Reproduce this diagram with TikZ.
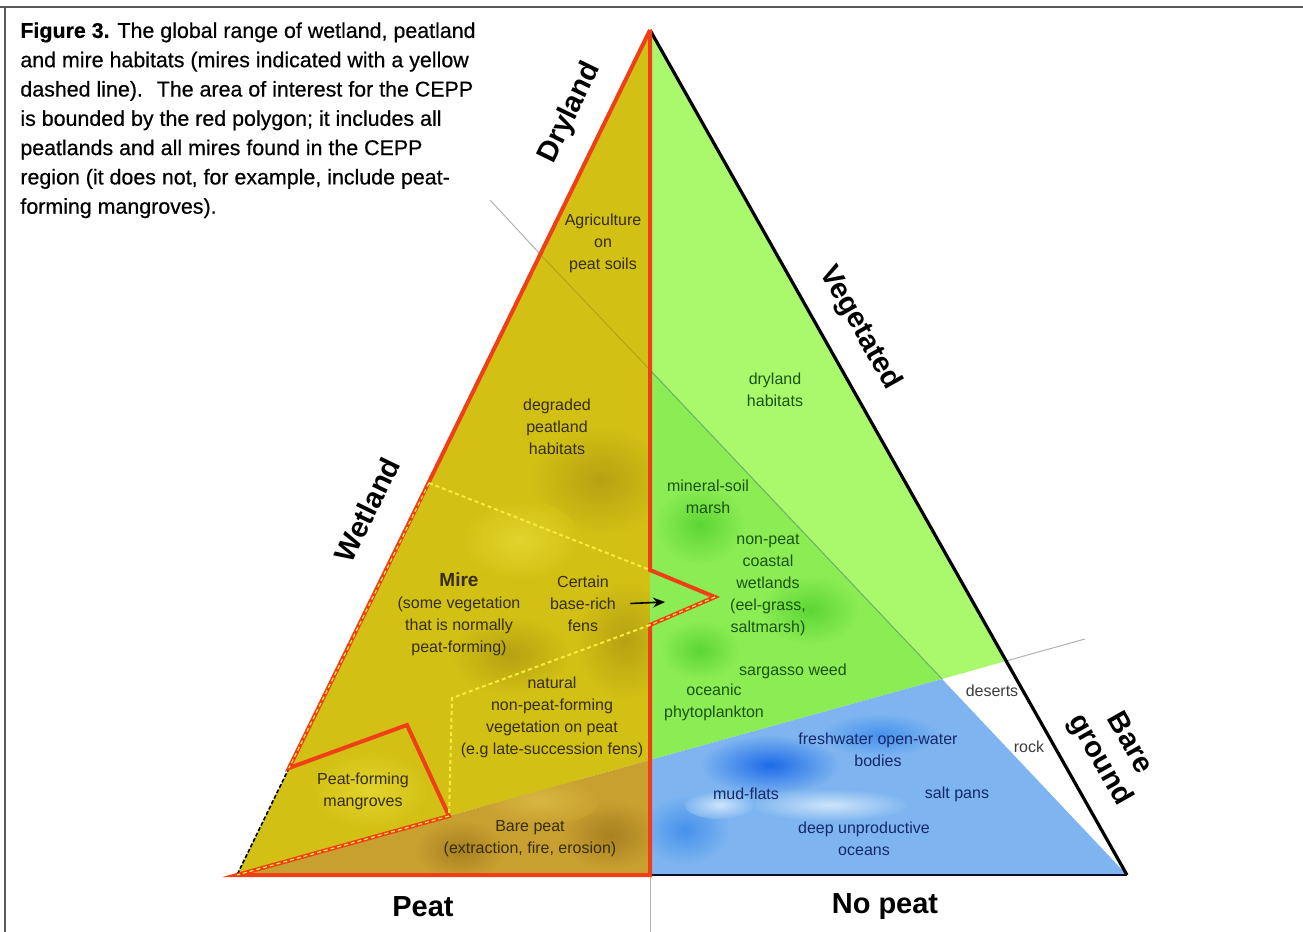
\documentclass[tikz,border=0pt]{standalone}
\usepackage{fontspec}
\setmainfont{Liberation Sans}
\newfontfamily\captionfont[FakeBold=0.5]{Liberation Sans}
\usetikzlibrary{arrows.meta}
\definecolor{peatyellow}{RGB}{210,192,20}
\definecolor{peatdark}{RGB}{182,162,18}
\definecolor{peatlight}{RGB}{226,212,45}
\definecolor{barebrown}{RGB}{200,160,48}
\definecolor{baredark}{RGB}{168,128,32}
\definecolor{barelight}{RGB}{216,182,64}
\definecolor{drygreen}{RGB}{170,248,108}
\definecolor{wetgreen}{RGB}{140,236,84}
\definecolor{wetdark}{RGB}{92,214,52}
\definecolor{waterblue}{RGB}{126,181,240}
\definecolor{waterdark}{RGB}{28,106,232}
\definecolor{watermid}{RGB}{70,145,236}
\definecolor{waterlight}{RGB}{205,228,250}
\definecolor{ceppred}{RGB}{240,62,22}
\definecolor{mireyellow}{RGB}{246,236,60}
\definecolor{peattext}{RGB}{55,45,5}
\definecolor{vegtext}{RGB}{25,85,15}
\definecolor{watertext}{RGB}{20,40,105}
\definecolor{baretext}{RGB}{60,60,60}
\definecolor{edgenavy}{RGB}{10,15,50}
\tikzset{
region label/.style = {font=\fontsize{8}{11}\selectfont, align=center, inner sep=1pt},
axis label/.style = {font=\fontsize{14.5}{17}\selectfont\bfseries, align=center, inner sep=0pt},
cepp line/.style = {draw=ceppred, line width=2pt, line join=miter},
mire line/.style = {draw=mireyellow, line width=1pt, dash pattern=on 2pt off 1.5pt},
guide line/.style = {draw=black!30, line width=0.5pt},
}
\begin{document}
\begin{tikzpicture}[x=0.5pt, y=-0.5pt]
      \useasboundingbox (0,0) rectangle (1303,932);
      \draw[black!65, line width=0.8pt] (0,7) -- (1303,7);
      \draw[black!65, line width=0.8pt] (5,7) -- (5,932);
      % corners of the triangle and crossing points
      \coordinate (apex) at (650,30);
      \coordinate (bl) at (237,875);
      \coordinate (br) at (1127,875);
      \coordinate (bm) at (650,875);
      \coordinate (dryleft) at (540,254);
      \coordinate (drymid) at (650,370);
      \coordinate (barejoin) at (942,679);
      \coordinate (bareright) at (1006,661);
      \coordinate (baremid) at (650,760);
      \coordinate (mireleft) at (429,483);
      \coordinate (miretop) at (650,570);
      \coordinate (notch) at (715,597);
      \coordinate (mirelow) at (650,625);
      \coordinate (mirebend) at (452,698);
      \coordinate (mirefoot) at (449,816);
      \coordinate (mangleft) at (289,768);
      \coordinate (mangtop) at (407,725);
      % filled areas
      \fill[peatyellow] (apex) -- (bl) -- (baremid) -- cycle;
      \begin{scope}
        \clip (apex) -- (bl) -- (baremid) -- cycle;
        \shade[inner color=peatdark, outer color=peatyellow] (600,480) ellipse [x radius=70, y radius=55];
        \shade[inner color=peatdark, outer color=peatyellow] (625,640) ellipse [x radius=50, y radius=60];
        \shade[inner color=peatdark, outer color=peatyellow] (510,655) ellipse [x radius=60, y radius=40];
        \shade[inner color=peatlight, outer color=peatyellow] (520,540) ellipse [x radius=60, y radius=40];
        \shade[inner color=peatlight, outer color=peatyellow] (370,790) ellipse [x radius=60, y radius=40];
      \end{scope}
      \fill[barebrown] (bl) -- (baremid) -- (bm) -- cycle;
      \begin{scope}
        \clip (bl) -- (baremid) -- (bm) -- cycle;
        \shade[inner color=baredark, outer color=barebrown] (610,835) ellipse [x radius=50, y radius=35];
        \shade[inner color=baredark, outer color=barebrown] (460,850) ellipse [x radius=45, y radius=30];
        \shade[inner color=barelight, outer color=barebrown] (540,800) ellipse [x radius=60, y radius=25];
      \end{scope}
      \fill[drygreen] (apex) -- (bareright) -- (barejoin) -- (drymid) -- cycle;
      \fill[wetgreen] (drymid) -- (barejoin) -- (baremid) -- cycle;
      \begin{scope}
        \clip (drymid) -- (barejoin) -- (baremid) -- cycle;
        \shade[inner color=wetdark, outer color=wetgreen] (700,525) ellipse [x radius=45, y radius=40];
        \shade[inner color=wetdark, outer color=wetgreen] (810,610) ellipse [x radius=50, y radius=35];
        \shade[inner color=wetdark, outer color=wetgreen] (700,650) ellipse [x radius=40, y radius=30];
      \end{scope}
      \fill[waterblue] (baremid) -- (barejoin) -- (br) -- (bm) -- cycle;
      \begin{scope}
        \clip (baremid) -- (barejoin) -- (br) -- (bm) -- cycle;
        \shade[inner color=waterdark, outer color=waterblue] (770,765) ellipse [x radius=70, y radius=30];
        \shade[inner color=watermid, outer color=waterblue] (880,735) ellipse [x radius=60, y radius=22];
        \shade[inner color=watermid, outer color=waterblue] (685,830) ellipse [x radius=45, y radius=35];
        \shade[inner color=waterlight, outer color=waterblue] (830,805) ellipse [x radius=80, y radius=16];
        \shade[inner color=waterlight, outer color=waterblue] (720,805) ellipse [x radius=35, y radius=14];
      \end{scope}
      % thin guide lines
      \draw[guide line] (490,200) -- (dryleft);
      \draw[peatdark, line width=0.5pt] (dryleft) -- (drymid);
      \draw[green!50!black!60, line width=0.5pt] (drymid) -- (barejoin);
      \draw[guide line] (bareright) -- (1085,639);
      \draw[guide line] (bm) -- (650,932);
      % triangle edges
      \draw[black, line width=1.6pt] (apex) -- (br);
      \draw[edgenavy, line width=1.3pt] (bm) -- (br);
      \draw[black, line width=0.8pt, dash pattern=on 2pt off 1pt] (mangleft) -- (bl);
      % area of interest (red polygon) and mires (yellow dashes)
      \draw[cepp line] (apex) -- (mangleft) -- (mangtop) -- (mirefoot) -- (bl) -- (bm) -- (mirelow) -- (notch) -- (miretop) -- (apex);
      \draw[mire line] (mireleft) -- (miretop);
      \draw[mire line] (mirelow) -- (mirebend) -- (mirefoot);
      \draw[mire line, line width=0.6pt] (notch) -- (mirelow);
      \draw[mire line, line width=0.6pt] (mirefoot) -- (bl);
      \draw[mire line, line width=0.6pt] (mireleft) -- (mangleft);
      % axis labels
      \begin{scope}[every node/.style={axis label}]
        \node[rotate=64] (dryland) at (570,113) {Dryland};
        \node[rotate=64] (wetland) at (367,510) {Wetland};
        \node[rotate=-60.5] (vegetated) at (860,328) {Vegetated};
        \node[rotate=-60.5] (bareground) at (1114,752) {Bare\\ground};
        \node (peat) at (423,907) {Peat};
        \node (nopeat) at (885,907) {No peat};
      \end{scope}
      % habitat labels
      \begin{scope}[every node/.style={region label, text=peattext}]
        \node (agri) at (603,243) {Agriculture\\on\\peat soils};
        \node (degraded) at (557,427) {degraded\\peatland\\habitats};
        \node (mire) at (459,614) {{\bfseries\fontsize{9.5}{11}\selectfont Mire}\\(some vegetation\\that is normally\\peat-forming)};
        \node (certain) at (583,604) {Certain\\base-rich\\fens};
        \node (natural) at (552,717) {natural\\non-peat-forming\\vegetation on peat\\(e.g late-succession fens)};
        \node (mangrove) at (363,791) {Peat-forming\\mangroves};
        \node (barepeat) at (530,839) {Bare peat\\(extraction, fire, erosion)};
      \end{scope}
      \begin{scope}[every node/.style={region label, text=vegtext}]
        \node (dryhab) at (775,390) {dryland\\habitats};
        \node (mineral) at (708,497) {mineral-soil\\marsh};
        \node (coastal) at (768,585) {non-peat\\coastal\\wetlands\\(eel-grass,\\saltmarsh)};
        \node (sargasso) at (793,671) {sargasso weed};
        \node (oceanic) at (714,702) {oceanic\\phytoplankton};
      \end{scope}
      \begin{scope}[every node/.style={region label, text=watertext}]
        \node (freshwater) at (878,750) {freshwater open-water\\bodies};
        \node (mudflats) at (746,794) {mud-flats};
        \node (saltpans) at (957,794) {salt pans};
        \node (deepocean) at (864,839) {deep unproductive\\oceans};
      \end{scope}
      \begin{scope}[every node/.style={region label, text=baretext}]
        \node (deserts) at (992,691) {deserts};
        \node (rock) at (1029,747) {rock};
      \end{scope}
      \coordinate (fenhead) at (665,602);
      \draw[-{Stealth[length=6pt, width=5pt]}, line width=0.8pt, shorten <=6pt] (certain.east) -- (fenhead);
      % caption
      \node[anchor=north west, align=left, inner sep=0pt, font=\captionfont\fontsize{10.7}{14.65}\selectfont] (caption) at (20,22)
        {\textbf{Figure 3.} The global range of wetland, peatland\\
         and mire habitats (mires indicated with a yellow\\
         dashed line).~ The area of interest for the CEPP\\
         is bounded by the red polygon; it includes all\\
         peatlands and all mires found in the CEPP\\
         region (it does not, for example, include peat-\\
         forming mangroves).};
\end{tikzpicture}
\end{document}
